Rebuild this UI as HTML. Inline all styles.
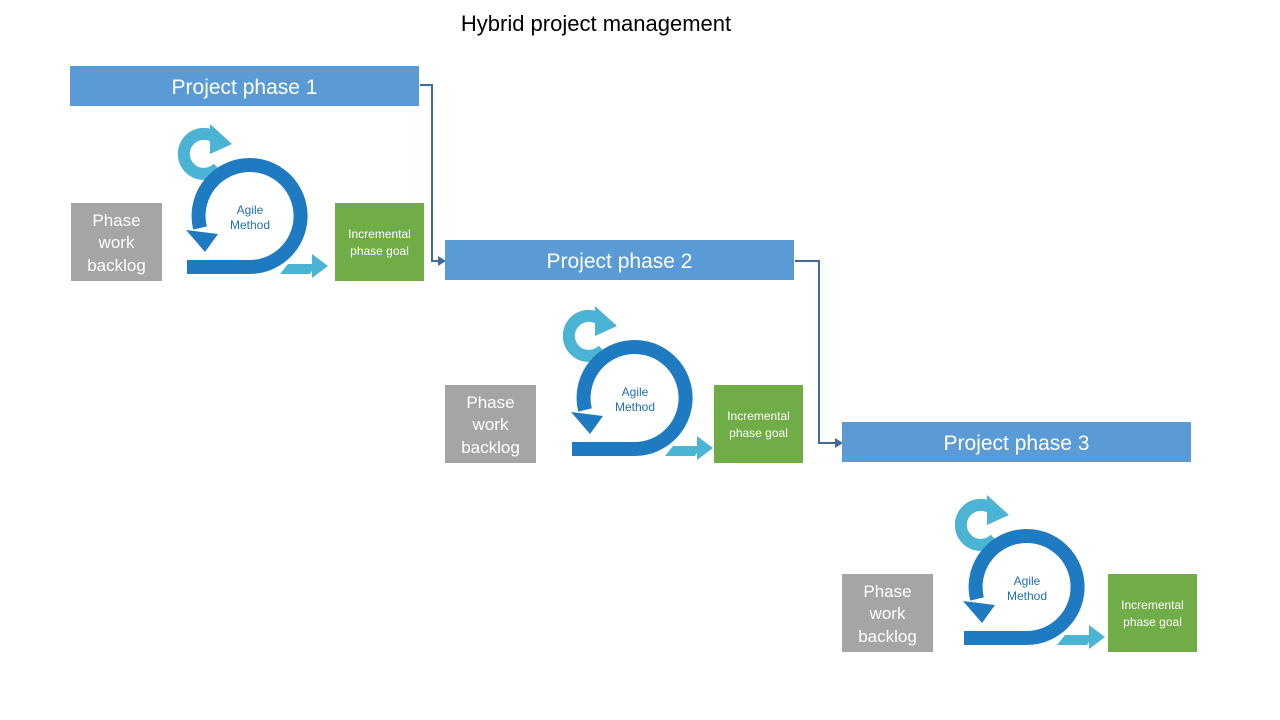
<!DOCTYPE html>
<html><head><meta charset="utf-8"><style>
html,body{margin:0;padding:0;background:#fff;}
body{width:1280px;height:720px;overflow:hidden;position:relative;font-family:"Liberation Sans",sans-serif;}
</style></head><body>
<svg width="1280" height="720" viewBox="0 0 1280 720" xmlns="http://www.w3.org/2000/svg" style="position:absolute;left:0;top:0">
<defs>
<g id="icon">
  <path d="M -34 -78 A 20 20 0 1 0 -32 -48" fill="none" stroke="#4bb3d4" stroke-width="12"/>
  <polygon points="-40,-92 -18,-72 -40,-62" fill="#4bb3d4"/>
  <path d="M -63 51 L 0 51 A 51 51 0 1 0 -50 12" fill="none" stroke="#1f7bc1" stroke-width="14"/>
  <polygon points="-64,14 -32,18 -45,36" fill="#1f7bc1"/>
  <polygon points="38,48 66,48 60,58 30,58" fill="#4bb3d4"/>
  <polygon points="62,38 78,50 62,62" fill="#4bb3d4"/>
  <text x="0" y="-2" font-size="12" fill="#1f6fb4" text-anchor="middle" font-family="Liberation Sans, sans-serif">Agile</text>
  <text x="0" y="13" font-size="12" fill="#1f6fb4" text-anchor="middle" font-family="Liberation Sans, sans-serif">Method</text>
</g>
</defs>
<text x="596" y="31" font-size="22" text-anchor="middle" fill="#000">Hybrid project management</text>

<polyline points="420,85 432,85 432,261 440,261" fill="none" stroke="#44699b" stroke-width="2"/>
<polygon points="438,256 446,261 438,266" fill="#44699b"/>
<polyline points="795,261 819,261 819,443 836,443" fill="none" stroke="#44699b" stroke-width="2"/>
<polygon points="835,438 843,443 835,448" fill="#44699b"/>

<rect x="70" y="66" width="349" height="40" fill="#5b9bd5"/>
<text x="244.5" y="94" font-size="21" fill="#fff" text-anchor="middle">Project phase 1</text>
<rect x="445" y="240" width="349" height="40" fill="#5b9bd5"/>
<text x="619.5" y="268" font-size="21" fill="#fff" text-anchor="middle">Project phase 2</text>
<rect x="842" y="422" width="349" height="40" fill="#5b9bd5"/>
<text x="1016.5" y="450" font-size="21" fill="#fff" text-anchor="middle">Project phase 3</text>

<rect x="71" y="203" width="91" height="78" fill="#a5a5a5"/>
<text x="116.5" y="226" font-size="17" fill="#fff" text-anchor="middle">Phase</text>
<text x="116.5" y="248" font-size="17" fill="#fff" text-anchor="middle">work</text>
<text x="116.5" y="271" font-size="17" fill="#fff" text-anchor="middle">backlog</text>
<rect x="335" y="203" width="89" height="78" fill="#70ad47"/>
<text x="379.5" y="238" font-size="12" fill="#fff" text-anchor="middle">Incremental</text>
<text x="379.5" y="255" font-size="12" fill="#fff" text-anchor="middle">phase goal</text>
<use href="#icon" transform="translate(250,216)"/>

<rect x="445" y="385" width="91" height="78" fill="#a5a5a5"/>
<text x="490.5" y="408" font-size="17" fill="#fff" text-anchor="middle">Phase</text>
<text x="490.5" y="430" font-size="17" fill="#fff" text-anchor="middle">work</text>
<text x="490.5" y="453" font-size="17" fill="#fff" text-anchor="middle">backlog</text>
<rect x="714" y="385" width="89" height="78" fill="#70ad47"/>
<text x="758.5" y="420" font-size="12" fill="#fff" text-anchor="middle">Incremental</text>
<text x="758.5" y="437" font-size="12" fill="#fff" text-anchor="middle">phase goal</text>
<use href="#icon" transform="translate(635,398)"/>

<rect x="842" y="574" width="91" height="78" fill="#a5a5a5"/>
<text x="887.5" y="597" font-size="17" fill="#fff" text-anchor="middle">Phase</text>
<text x="887.5" y="619" font-size="17" fill="#fff" text-anchor="middle">work</text>
<text x="887.5" y="642" font-size="17" fill="#fff" text-anchor="middle">backlog</text>
<rect x="1108" y="574" width="89" height="78" fill="#70ad47"/>
<text x="1152.5" y="609" font-size="12" fill="#fff" text-anchor="middle">Incremental</text>
<text x="1152.5" y="626" font-size="12" fill="#fff" text-anchor="middle">phase goal</text>
<use href="#icon" transform="translate(1027,587)"/>
</svg>
</body></html>
